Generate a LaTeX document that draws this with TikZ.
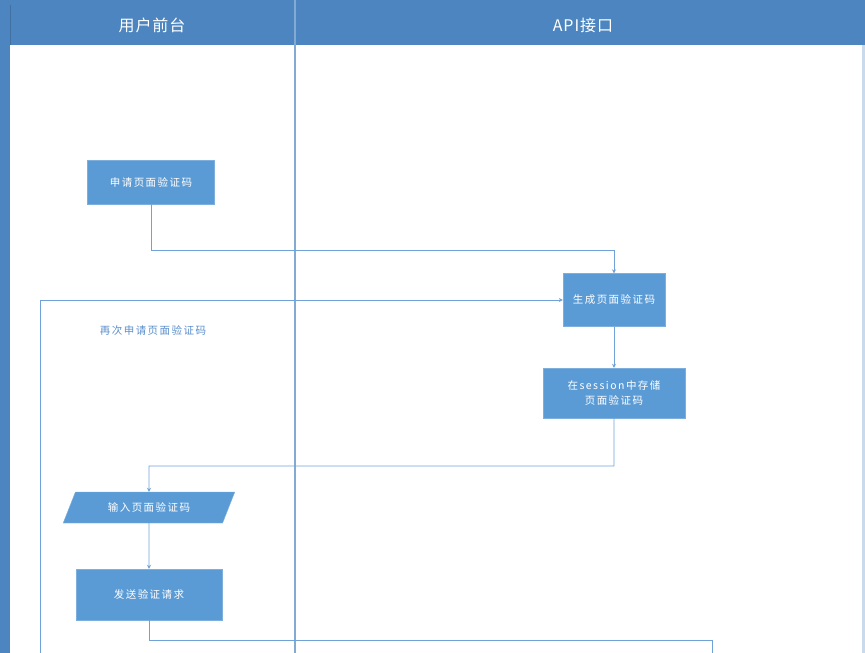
\documentclass[tikz,border=0pt]{standalone}
\usepackage{fontspec}
\newfontfamily\cjk[LetterSpace=14]{Noto Sans CJK SC}
\newfontfamily\cjkh[LetterSpace=6]{Noto Sans CJK SC}
\usetikzlibrary{shapes.geometric,arrows.meta}
\definecolor{hdr}{HTML}{4C85BF}
\definecolor{boxc}{HTML}{5B9BD5}
\definecolor{linec}{HTML}{6FA3D8}
\definecolor{txtb}{HTML}{5B8FCC}
\begin{document}
\begin{tikzpicture}[x=1pt,y=-1pt,
  proc/.style={draw=boxc!80!white,fill=boxc,text=white,font=\cjk\fontsize{10.5}{15}\selectfont,inner sep=0pt,align=center},
  para/.style={trapezium,trapezium left angle=55,trapezium right angle=125,draw=boxc!80!white,fill=boxc,text=white,font=\cjk\fontsize{10.5}{15}\selectfont,inner sep=0pt,minimum height=31pt,minimum width=172pt,trapezium stretches=true},
  conn/.style={draw=linec,line width=0.8pt,-{Stealth[length=4pt,width=4pt]}},
  connp/.style={draw=linec,line width=0.8pt},
  hdrtext/.style={text=white,font=\cjkh\fontsize{16}{18}\selectfont}]
\useasboundingbox (0,0) rectangle (865,653);
\fill[hdr] (0,0) rectangle (865,653);
\fill[white] (10,45) rectangle (862,653);
\fill[hdr!30!white] (862,45) rectangle (865,653);
\draw[hdr!85!black,line width=0.6pt] (10,5) -- (10,45);
\draw[hdr!70!white,line width=1.8pt] (295,0) -- (295,653);
\node[hdrtext] (h1) at (152,25) {用户前台};
\node[hdrtext] (h2) at (583,25) {API接口};
% nodes
\node[proc,minimum width=127pt,minimum height=44pt] (b1) at (151,182) {申请页面验证码};
\node[proc,minimum width=102pt,minimum height=53pt] (b2) at (614,300) {生成页面验证码};
\node[proc,minimum width=142pt,minimum height=50pt] (b3) at (614,393) {在session中存储\\页面验证码};
\node[para] (b4) at (149,507.5) {输入页面验证码};
\node[proc,minimum width=146pt,minimum height=51pt] (b5) at (149,594.5) {发送验证请求};
\node[text=txtb,font=\cjk\fontsize{10.5}{15}\selectfont] (lbl) at (153,330) {再次申请页面验证码};
\coordinate (loopS) at (40,653);
\coordinate (endE) at (712,653);
% connectors
\draw[conn] (b1.south) |- (614,250) -- (b2.north);
\draw[conn] (loopS) |- (b2.west);
\draw[conn] (b2.south) -- (b3.north);
\draw[conn] (b3.south) |- (149,466) -- (b4.north);
\draw[conn] (b4.south) -- (b5.north);
\draw[connp] (b5.south) |- (712,640) -- (endE);
\end{tikzpicture}
\end{document}
